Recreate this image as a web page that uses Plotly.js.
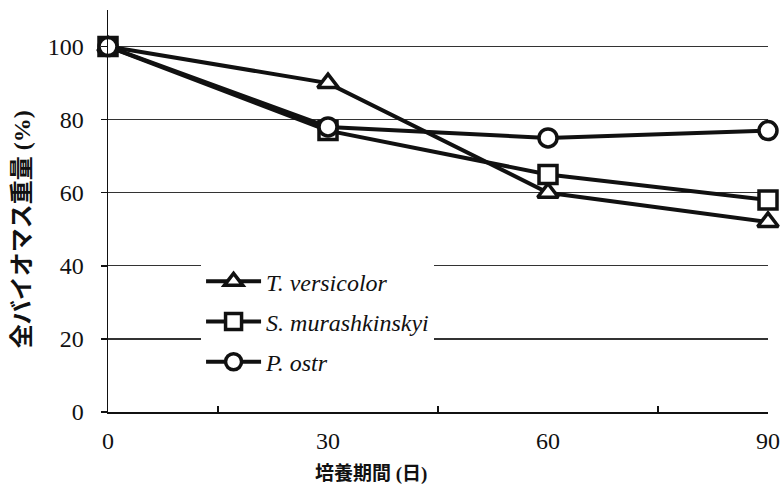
<!DOCTYPE html>
<html>
<head>
<meta charset="utf-8">
<script src="https://cdn.plot.ly/plotly-3.0.1.min.js"></script>
<style>html,body{margin:0;padding:0;background:#fff;}#chart{width:784px;height:487px;}</style>
</head>
<body>
<div id="chart"></div>
<script>
const days = [0, 30, 60, 90];
const tVersicolor = [100, 90, 60, 52];
const sMurashkinskyi = [100, 77, 65, 58];
const pOstreatus = [100, 78, 75, 77];
const seriesNames = ['T. versicolor', 'S. murashkinskyi', 'P. ostr'];
const xTickVals = [0, 30, 60, 90];
const xMinorTicks = [15, 45, 75, 90];
const yTickVals = [0, 20, 40, 60, 80, 100];
const xTitle = '培養期間 (日)';
const yTitle = '全バイオマス重量 (%)';

function mk(y, name, symbol, size, grp) {
  return {
    x: days, y: y, name: name, type: 'scatter', mode: 'lines+markers',
    legendgroup: grp, cliponaxis: false,
    line: {color: '#111', width: 4},
    marker: {symbol: symbol, size: size, color: '#fff', line: {color: '#111', width: 3.5}}
  };
}
const data = [
  mk(tVersicolor, seriesNames[0], 'triangle-up', 18, 'a'),
  mk(sMurashkinskyi, seriesNames[1], 'square', 18, 'b'),
  mk(pOstreatus, seriesNames[2], 'circle', 18, 'c'),
  {x: [0], y: [0], xaxis: 'x2', yaxis: 'y', type: 'scatter', mode: 'markers', showlegend: false, hoverinfo: 'skip', marker: {opacity: 0}}
];
const serif = 'Liberation Serif';
const cjk = 'Liberation Serif, Noto Sans CJK JP';
const layout = {
  width: 784, height: 487,
  margin: {l: 108, r: 16, t: 10, b: 75},
  paper_bgcolor: '#fff', plot_bgcolor: '#fff',
  showlegend: true,
  legend: {
    x: 0.141, y: 0.38, xanchor: 'left', yanchor: 'top',
    bgcolor: '#fff', borderwidth: 0,
    font: {family: serif, size: 24, color: '#111', style: 'italic'},
    tracegroupgap: 6, itemwidth: 55, traceorder: 'grouped'
  },
  xaxis: {
    range: [0, 90], tickvals: xTickVals, ticktext: xTickVals.map(String),
    ticks: '', showgrid: false, zeroline: false,
    showline: true, linecolor: '#111', linewidth: 1.5,
    tickfont: {family: serif, size: 24, color: '#111'},
    ticklabelstandoff: 7
  },
  xaxis2: {
    overlaying: 'x', anchor: 'y', side: 'bottom', range: [0, 90],
    tickvals: xMinorTicks, ticks: 'inside', ticklen: 6, tickwidth: 1.5, tickcolor: '#111',
    showticklabels: false, showgrid: false, zeroline: false, showline: false
  },
  yaxis: {
    range: [0, 110], tickvals: yTickVals, ticktext: yTickVals.map(String),
    ticks: 'outside', ticklen: 6, tickwidth: 1.5, tickcolor: '#111',
    showgrid: true, gridcolor: '#333', gridwidth: 1.2, zeroline: false,
    showline: true, linecolor: '#111', linewidth: 1.5,
    tickfont: {family: serif, size: 24, color: '#111'},
    ticklabelstandoff: 12
  },
  annotations: [
    {text: xTitle, xref: 'paper', yref: 'paper', x: 0.398, y: -0.155, xanchor: 'center', yanchor: 'middle', showarrow: false,
     font: {family: cjk, size: 19, color: '#111', weight: 'bold'}},
    {text: yTitle, xref: 'paper', yref: 'paper', x: -0.130, y: 0.455, xanchor: 'center', yanchor: 'middle', showarrow: false, textangle: -90,
     font: {family: cjk, size: 24, color: '#111', weight: 'bold'}}
  ]
};
Plotly.newPlot('chart', data, layout, {displayModeBar: false, staticPlot: true});
</script>
</body>
</html>
